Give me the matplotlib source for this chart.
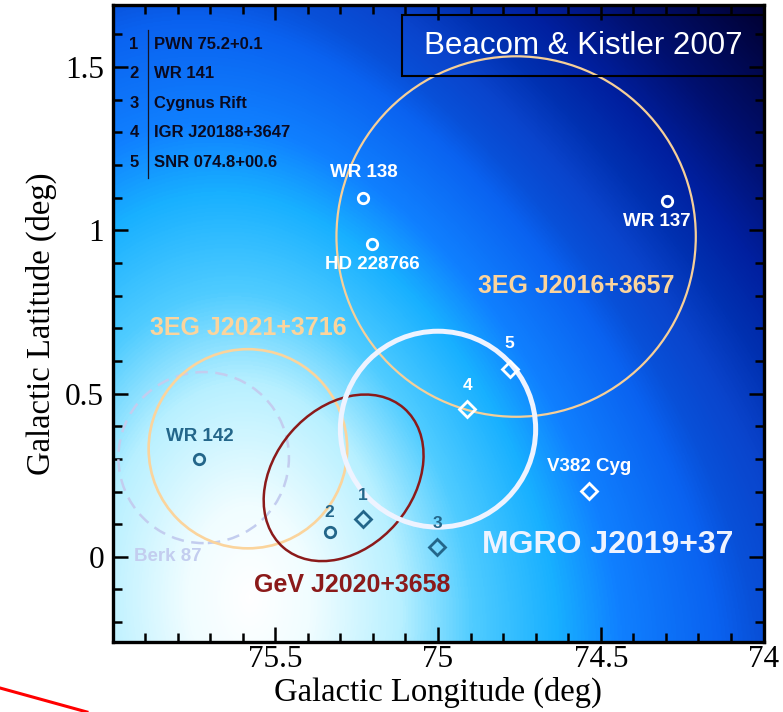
import numpy as np
import matplotlib
matplotlib.use('Agg')
import matplotlib.pyplot as plt
from matplotlib.patches import Circle, Ellipse, Rectangle
from matplotlib.colors import LinearSegmentedColormap
from matplotlib.lines import Line2D

# EGRET / Milagro / cluster regions: (l, b, radius) in deg
egret_names = ['3EG J2016+3657', '3EG J2021+3716']
egret_l = [74.76, 75.584]
egret_b = [0.981, 0.331]
egret_r = [0.552, 0.305]

berk_l, berk_b, berk_r = 75.72, 0.304, 0.262
mgro_l, mgro_b, mgro_r = 75.0, 0.391, 0.30

# GeV J2020+3658 error ellipse
gev_l, gev_b = 75.29, 0.242
gev_w, gev_h, gev_ang = 0.565, 0.427, -49

# point sources
wr_white = ['WR 138', 'HD 228766', 'WR 137']
wr_white_l = [75.231, 75.203, 74.298]
wr_white_b = [1.099, 0.959, 1.091]

wr_teal = ['WR 142', '2']
wr_teal_l = [75.733, 75.333]
wr_teal_b = [0.299, 0.077]

dia_teal = ['1', '3']
dia_teal_l = [75.231, 75.002]
dia_teal_b = [0.115, 0.029]

dia_white = ['4', '5', 'V382 Cyg']
dia_white_l = [74.91, 74.78, 74.537]
dia_white_b = [0.454, 0.576, 0.201]

legend_ids = ['1', '2', '3', '4', '5']
legend_names = ['PWN 75.2+0.1', 'WR 141', 'Cygnus Rift',
                'IGR J20188+3647', 'SNR 074.8+00.6']

xlim = (76, 74)
ylim = (-0.26, 1.69)

teal = '#23668a'
peach = '#fbd49c'
sans = 'Liberation Sans'
serif = 'Liberation Serif'

# label offsets (points) relative to their markers
offs = {'WR 138': (1, 18.5), 'HD 228766': (0, -15), 'WR 137': (-7, -15),
        'WR 142': (0, 16), '2': (0, 13.5), '1': (0, 17.3), '3': (0, 17.3),
        '4': (0, 16.5), '5': (0, 18), 'V382 Cyg': (0, 18)}

fig = plt.figure(figsize=(7.83, 7.12), dpi=100)
ax = fig.add_axes([0.1437, 0.0987, 0.8314, 0.8942])
ax.set_xlim(*xlim)
ax.set_ylim(*ylim)

# sky background: white glow at lower left, fading to navy at upper right
u, v = np.meshgrid(np.linspace(0, 1, 600), np.linspace(0, 1, 600))
du = u - 0.21
du = 1.3 * du / (1 + 0.35 * np.abs(du))
dv = (v - 0.07) / 1.25
s = np.sqrt(du**2 + dv**2) + 0.25 * (u * v) ** 1.2
stops = [(0.0, '#ffffff'), (0.12, '#f0fdff'), (0.28, '#b8f0ff'),
         (0.4, '#50ccff'), (0.53, '#18b0ff'), (0.62, '#1080ff'),
         (0.75, '#0a62f0'), (0.8, '#0850d8'), (0.87, '#0a44cc'),
         (0.95, '#0030b0'), (1.03, '#0020a0'), (1.15, '#001070'),
         (1.35, '#000030')]
smax = stops[-1][0]
cmap = LinearSegmentedColormap.from_list('sky', [(p / smax, c) for p, c in stops])
ax.imshow(s, cmap=cmap, vmin=0, vmax=smax, origin='lower', aspect='auto',
          extent=[xlim[0], xlim[1], ylim[0], ylim[1]], zorder=0,
          interpolation='bilinear')

# regions
ax.add_patch(Circle((berk_l, berk_b), berk_r, fill=False, ec='#c3cdef',
                    lw=1.8, ls=(0, (5, 3)), zorder=2))
ax.add_patch(Circle((egret_l[1], egret_b[1]), egret_r[1], fill=False,
                    ec=peach, lw=1.9, zorder=2))
ax.add_patch(Circle((egret_l[0], egret_b[0]), egret_r[0], fill=False,
                    ec='#f6cf98', lw=1.6, zorder=2))
ax.add_patch(Ellipse((gev_l, gev_b), gev_w, gev_h, angle=gev_ang, fill=False,
                     ec='#8b1a1a', lw=1.8, zorder=3))
ax.add_patch(Circle((mgro_l, mgro_b), mgro_r, fill=False, ec='#eef3ff',
                    lw=3.6, zorder=4))

# markers
ax.plot(wr_white_l, wr_white_b, 'o', ms=7.5, mfc='none', mec='white', mew=2, zorder=5)
ax.plot(wr_teal_l, wr_teal_b, 'o', ms=7.5, mfc='none', mec=teal, mew=2, zorder=5)
ax.plot(dia_teal_l, dia_teal_b, 'D', ms=8, mfc='none', mec=teal, mew=2, zorder=5)
ax.plot(dia_white_l, dia_white_b, 'D', ms=8, mfc='none', mec='white', mew=2, zorder=5)

def tag(names, ls, bs, color):
    for n, l, b in zip(names, ls, bs):
        ax.annotate(n, (l, b), xytext=offs[n], textcoords='offset points',
                    ha='center', va='center', color=color, family=sans,
                    fontsize=13.5 if len(n) > 1 else 12.5,
                    fontweight='bold', zorder=6)

tag(wr_white, wr_white_l, wr_white_b, 'white')
tag(wr_teal, wr_teal_l, wr_teal_b, teal)
tag(dia_teal, dia_teal_l, dia_teal_b, teal)
tag(dia_white, dia_white_l, dia_white_b, 'white')

# region names
ax.text(74.576, 0.828, egret_names[0], color=peach, fontsize=18,
        fontweight='bold', family=sans, ha='center', va='center', zorder=6)
ax.text(75.584, 0.70, egret_names[1], color=peach, fontsize=18,
        fontweight='bold', family=sans, ha='center', va='center', zorder=6)
ax.text(75.265, -0.087, 'GeV J2020+3658', color='#8b1a1a', fontsize=18,
        fontweight='bold', family=sans, ha='center', va='center', zorder=6)
ax.text(74.48, 0.036, 'MGRO J2019+37', color='#eef3ff', fontsize=23,
        fontweight='bold', family=sans, ha='center', va='center', zorder=6)
ax.text(75.83, 0.0, 'Berk 87', color='#c3cdef', fontsize=13.5,
        fontweight='bold', family=sans, ha='center', va='center', zorder=6)

# numbered key in the upper left
for i, (k, n) in enumerate(zip(legend_ids, legend_names)):
    y = 0.9386 - 0.0464 * i
    ax.text(0.033, y, k, transform=ax.transAxes, ha='center', va='center',
            fontsize=12, fontweight='bold', family=sans, color='#0a0a20', zorder=6)
    ax.text(0.0637, y, n, transform=ax.transAxes, ha='left', va='center',
            fontsize=12, fontweight='bold', family=sans, color='#0a0a20', zorder=6)
ax.add_line(Line2D([0.0545, 0.0545], [0.728, 0.961], transform=ax.transAxes,
                   color='#151525', lw=0.9, zorder=6))

# citation box
ax.add_patch(Rectangle((0.4447, 0.8885), 0.5553, 0.0958, transform=ax.transAxes,
                       fill=False, ec='black', lw=1.5, zorder=7))
ax.text(0.7235, 0.9356, 'Beacom & Kistler 2007', transform=ax.transAxes,
        ha='center', va='center', color='white', fontsize=22.5, family=sans,
        zorder=7)

# axes styling
ax.set_xticks([75.5, 75, 74.5, 74])
ax.set_xticklabels(['75.5', '75', '74.5', '74'])
ax.set_yticks([0, 0.5, 1, 1.5])
ax.set_yticklabels(['0', '0.5', '1', '1.5'])
ax.set_xticks(np.arange(74.1, 76.0, 0.1), minor=True)
ax.set_yticks(np.arange(-0.2, 1.7, 0.1), minor=True)
ax.tick_params(which='both', direction='in', top=True, right=True,
               color='black', width=1.8, labelsize=22.5)
ax.tick_params(which='major', length=10.5)
ax.tick_params(which='minor', length=6.5)
ax.tick_params(axis='x', pad=2)
ax.tick_params(axis='y', pad=6)
for lab in ax.get_xticklabels() + ax.get_yticklabels():
    lab.set_family(serif)
for sp in ax.spines.values():
    sp.set_linewidth(2.4)
    sp.set_zorder(8)

ax.set_xlabel('Galactic Longitude (deg)', family=serif, fontsize=23.5, labelpad=2)
ax.set_ylabel('Galactic Latitude (deg)', family=serif, fontsize=23.5, labelpad=6)

# red stroke across the lower left corner
fig.add_artist(Line2D([0, 0.111], [0.0337, 0.0], transform=fig.transFigure,
                      color='red', lw=2.2))

fig.savefig('out.png', dpi=100)
